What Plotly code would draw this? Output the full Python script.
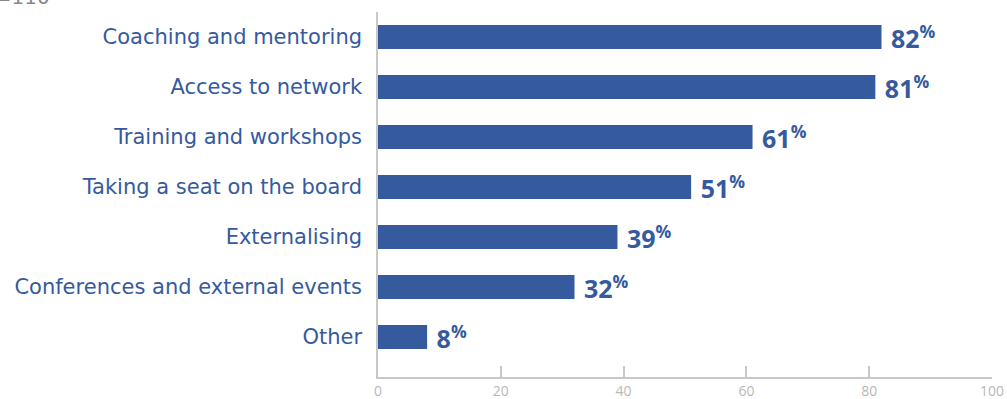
import plotly.graph_objects as go

categories = ["Coaching and mentoring", "Access to network", "Training and workshops",
              "Taking a seat on the board", "Externalising",
              "Conferences and external events", "Other"]
values = [82, 81, 61, 51, 39, 32, 8]
x_ticks = [0, 20, 40, 60, 80, 100]
sample_note = "n=110"

BLUE = "#355a9e"
FONT = "DejaVu Sans"

fig = go.Figure(go.Bar(
    x=values, y=categories, orientation="h",
    marker=dict(color=BLUE, line=dict(width=0)),
    text=[f"\u00a0<b>{v}</b><sup><b>%</b></sup>" for v in values],
    textposition="outside", cliponaxis=False, constraintext="none",
    textfont=dict(family="Open Sans", size=25, color=BLUE),
    width=0.48, hoverinfo="skip",
))

fig.update_layout(
    width=1007, height=399,
    margin=dict(l=378, r=15, t=12, b=22),
    plot_bgcolor="white", paper_bgcolor="white",
    showlegend=False,
    xaxis=dict(range=[0, 100], tickvals=x_ticks, showgrid=False, zeroline=False,
               automargin=False,
               showline=True, linecolor="#c8c8c8", linewidth=1.5,
               ticks="inside", ticklen=11, tickcolor="#c8c8c8", tickwidth=1.5,
               tickfont=dict(family="Open Sans", size=14, color="#b8b8b8")),
    yaxis=dict(categoryorder="array", categoryarray=categories, automargin=False,
               range=[6.8, -0.5], showgrid=False, zeroline=False,
               showline=True, linecolor="#c8c8c8", linewidth=1.5,
               ticks="", ticklabelstandoff=10,
               tickfont=dict(family=FONT, size=21, color=BLUE)),
    annotations=[dict(text=sample_note, xref="paper", yref="paper",
                      x=-398/614, y=1 + 15/365, xanchor="left", yanchor="middle",
                      showarrow=False, font=dict(family=FONT, size=20, color="#888"))],
)

fig.write_html("out.html", config={"displayModeBar": False},
               post_script="document.body.style.margin='0';")
